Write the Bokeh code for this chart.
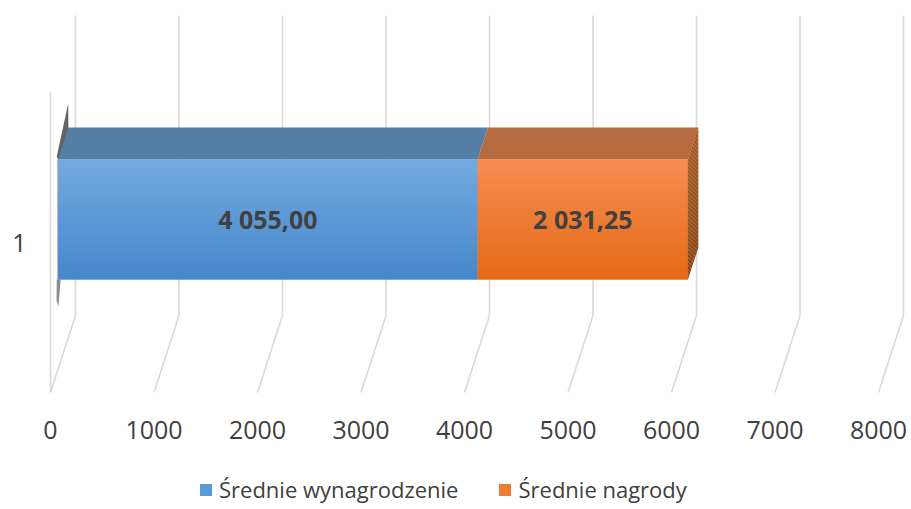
import numpy as np
from bokeh.plotting import figure
from bokeh.models import Range1d, Legend, LegendItem, FixedTicker, ColumnDataSource
from bokeh.core.properties import value
from bokeh.embed import file_html
from bokeh.resources import INLINE

# ---- data ----
categories = ["1"]
series_names = ["Średnie wynagrodzenie", "Średnie nagrody"]
series_values = [4055.00, 2031.25]
tick_values = [0, 1000, 2000, 3000, 4000, 5000, 6000, 7000, 8000]
tick_labels = ["0", "1000", "2000", "3000", "4000", "5000", "6000", "7000", "8000"]

# ---- styles ----
FONT = "Open Sans"
TXT = "#404040"
GRID = "#d9d9d9"
front_top = ["#72a9df", "#f58d52"]
front_bot = ["#4788cb", "#e56a16"]
base_col = ["#5b9bd5", "#ed7d31"]
top_col = ["#567fa6", "#b66a40"]
side_top, side_bot = "#a4571f", "#8c4410"

W, H = 911, 509
# 3D projection: depth d in [0,1] shifts right and up
PX_PER_UNIT = 0.1035
DX = 25 / PX_PER_UNIT      # value units per full depth
DY = 77 / 300              # category units per full depth
def X(v, d):
    return v + d * DX
def Y(c, d):
    return c + d * DY

XS = -50 / PX_PER_UNIT
XE = XS + W / PX_PER_UNIT
YE = 0.5 + 392 / 300
YS = YE - H / 300
p = figure(width=W, height=H, output_backend="svg", toolbar_location=None,
           x_range=Range1d(XS, XE), y_range=Range1d(YS, YE), min_border=0)
p.outline_line_color = None
p.grid.visible = False
p.background_fill_color = "white"

# walls / gridlines
c_lo, c_hi = 0.5, 1.5
for t in tick_values:
    p.line([X(t, 1), X(t, 1)], [Y(c_lo, 1), Y(c_hi, 1)], line_color=GRID, line_width=1.6)
    p.line([X(t, 0), X(t, 1)], [Y(c_lo, 0), Y(c_lo, 1)], line_color=GRID, line_width=1.6)
p.line([X(0, 0), X(0, 0)], [Y(c_lo, 0), Y(c_hi, 0)], line_color=GRID, line_width=1.6)

# bars
c = 1.0
h = 0.2
d0, d1 = 0.30, 0.715
starts = np.concatenate([[0], np.cumsum(series_values)[:-1]])
ends = np.cumsum(series_values)

# soft shadow at the left end of the bar
p.patch([X(0, d1) - 2, X(0, d1), X(0, d1), X(0, d0), X(0, d0) - 12],
        [Y(c + h, d1) + 0.08, Y(c + h, d1), Y(c + h, d0) + 0.02, Y(c + h, d0), Y(c + h, d0) + 0.01],
        fill_color="#303030", fill_alpha=0.75, line_color=None)
p.patch([X(0, d0) - 12, X(0, d0) + 25, X(0, d0) + 5, X(0, d0) - 14],
        [Y(c - h, d0), Y(c - h, d0), Y(c - h, d0) - 0.09, Y(c - h, d0) - 0.07],
        fill_color="#303030", fill_alpha=0.55, line_color=None)
p.quad(left=X(0, d0) - 10, right=X(0, d0), bottom=Y(c - h, d0), top=Y(c + h, d0),
       fill_color="#909090", fill_alpha=0.6, line_color=None)

def hex2rgb(hx):
    return np.array([int(hx[i:i + 2], 16) for i in (1, 3, 5)], dtype=float)
def rgb2hex(a):
    return "#%02x%02x%02x" % tuple(int(round(x)) for x in a)

base_renderers = []
N = 30
ov = 0.002  # slight overlap of gradient strips
for i, (a, b) in enumerate(zip(starts, ends)):
    # top face
    p.patch([X(a, d0), X(a, d1), X(b, d1), X(b, d0)],
            [Y(c + h, d0), Y(c + h, d1), Y(c + h, d1), Y(c + h, d0)],
            fill_color=top_col[i], line_color=None)
    # front face base + gradient
    r = p.quad(left=X(a, d0), right=X(b, d0), bottom=Y(c - h, d0), top=Y(c + h, d0),
               fill_color=base_col[i], line_color=None)
    base_renderers.append(r)
    edges = np.linspace(Y(c + h, d0), Y(c - h, d0), N + 1)
    t0, t1 = hex2rgb(front_top[i]), hex2rgb(front_bot[i])
    cols = [rgb2hex(t0 + (t1 - t0) * k / (N - 1)) for k in range(N)]
    bottoms = np.maximum(edges[1:] - ov, Y(c - h, d0))
    src = ColumnDataSource(dict(top=edges[:-1], bottom=bottoms, color=cols))
    p.quad(left=X(a, d0), right=X(b, d0), top="top", bottom="bottom",
           fill_color="color", line_color=None, source=src)

# right side face of the last segment
b = ends[-1]
ys_top = np.linspace(Y(c + h, d0), Y(c - h, d0), N + 1)
s0, s1 = hex2rgb(side_top), hex2rgb(side_bot)
xs_side, ys_side, side_cols = [], [], []
for k in range(N):
    y_a, y_b = ys_top[k], max(ys_top[k + 1] - ov, Y(c - h, d0))
    xs_side.append([X(b, d0), X(b, d1), X(b, d1), X(b, d0)])
    ys_side.append([y_a, y_a + (d1 - d0) * DY, y_b + (d1 - d0) * DY, y_b])
    side_cols.append(rgb2hex(s0 + (s1 - s0) * k / (N - 1)))
p.patches(xs="xs", ys="ys", fill_color="color", line_color=None,
          source=ColumnDataSource(dict(xs=xs_side, ys=ys_side, color=side_cols)))

# value labels
def fmt(v):
    return f"{v:,.2f}".replace(",", " ").replace(".", ",")
lab_src = ColumnDataSource(dict(
    x=[X((a + b2) / 2, d0) for a, b2 in zip(starts, ends)],
    y=[Y(c, d0)] * len(series_values),
    t=[fmt(v) for v in series_values]))
p.text(x="x", y="y", text="t", source=lab_src, text_align="center", text_baseline="middle",
       text_font=value(FONT), text_font_style="bold", text_font_size="25px", text_color=TXT)

# axes
p.xaxis.ticker = FixedTicker(ticks=tick_values)
p.xaxis.major_label_overrides = {t: l for t, l in zip(tick_values, tick_labels)}
p.xaxis.fixed_location = 0.4367
p.yaxis.ticker = FixedTicker(ticks=[1])
p.yaxis.major_label_overrides = {1: categories[0]}
p.yaxis.fixed_location = -97
for ax in (p.xaxis, p.yaxis):
    ax.axis_line_color = None
    ax.major_tick_line_color = None
    ax.minor_tick_line_color = None
    ax.major_label_text_font = FONT
    ax.major_label_text_font_size = "25px"
    ax.major_label_text_color = TXT
p.xaxis.major_label_standoff = 4
p.yaxis.major_label_standoff = 8

legend = Legend(items=[LegendItem(label=n, renderers=[r]) for n, r in zip(series_names, base_renderers)],
                location=(198, 5), orientation="horizontal", spacing=39, label_standoff=6,
                glyph_width=15, glyph_height=15, padding=0, margin=0,
                border_line_color=None, background_fill_alpha=0,
                label_text_font=FONT, label_text_font_size="22px", label_text_color=TXT)
p.add_layout(legend, "center")

open("out.html", "w").write(file_html(p, INLINE))
